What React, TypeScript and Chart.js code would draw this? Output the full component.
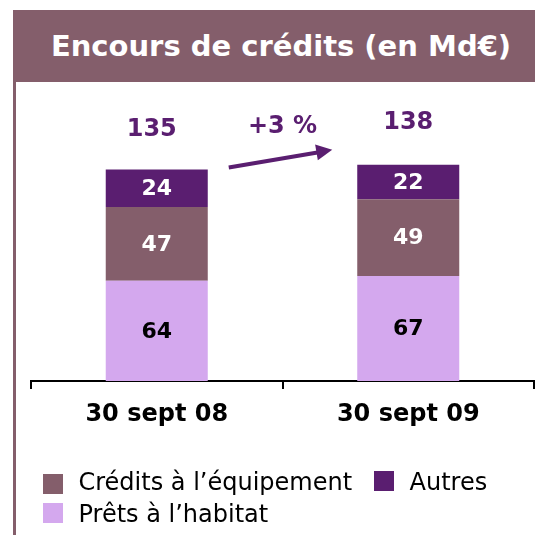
import React, { useEffect, useRef } from "react";
import { Chart, registerables } from "chart.js";

Chart.register(...registerables);

const categories = ["30 sept 08", "30 sept 09"];
const pretsHabitat = [64, 67];
const creditsEquipement = [47, 49];
const autres = [24, 22];
const totals = [135, 138];
const growthLabel = "+3 %";
const seriesNames = ["Prêts à l’habitat", "Crédits à l’équipement", "Autres"];
const titleText = "Encours de crédits (en Md€)";

const COL_PRETS = "#D4A8EE";
const COL_CREDITS = "#845E6B";
const COL_AUTRES = "#5A1E70";
const seriesColors = [COL_PRETS, COL_CREDITS, COL_AUTRES];
const FONT = "'DejaVu Sans', Verdana, sans-serif";

const labelPlugin = {
  id: "valueLabels",
  afterDatasetsDraw(chart: any) {
    const ctx = chart.ctx;
    const textColors = ["#000000", "#ffffff", "#ffffff"];
    ctx.save();
    ctx.textAlign = "center";
    ctx.textBaseline = "middle";
    ctx.font = `bold 22px ${FONT}`;
    chart.data.datasets.forEach((ds: any, i: number) => {
      const meta = chart.getDatasetMeta(i);
      meta.data.forEach((el: any, j: number) => {
        ctx.fillStyle = textColors[i];
        ctx.fillText(String(ds.data[j]), el.x, (el.y + el.base) / 2 + 1);
      });
    });
    const topMeta = chart.getDatasetMeta(chart.data.datasets.length - 1);
    const botMeta = chart.getDatasetMeta(0);
    ctx.font = `bold 24px ${FONT}`;
    ctx.fillStyle = COL_AUTRES;
    const ys: number[] = [];
    topMeta.data.forEach((el: any, j: number) => {
      const y = el.y - (j === 0 ? 40 : 42);
      ys.push(y);
      ctx.fillText(String(totals[j]), el.x - (j === 0 ? 5 : 0), y);
    });
    const xs = chart.scales.x;
    const midX = xs.getPixelForValue(0.5);
    ctx.fillText(growthLabel, midX, (ys[0] + ys[1]) / 2 + 1);
    // arrow
    const b1 = botMeta.data[0];
    const b2 = botMeta.data[1];
    const t1 = topMeta.data[0];
    const t2 = topMeta.data[1];
    const sx = b1.x + b1.width / 2 + 21;
    const sy = t1.y - 2;
    const ex = b2.x - b2.width / 2 - 25;
    const ey = t2.y - 15;
    const ang = Math.atan2(ey - sy, ex - sx);
    const headLen = 16;
    const headHalf = 8;
    const bx = ex - headLen * Math.cos(ang);
    const by = ey - headLen * Math.sin(ang);
    ctx.strokeStyle = COL_AUTRES;
    ctx.lineWidth = 4;
    ctx.beginPath();
    ctx.moveTo(sx, sy);
    ctx.lineTo(bx + 1, by);
    ctx.stroke();
    ctx.beginPath();
    ctx.moveTo(ex, ey);
    ctx.lineTo(bx + headHalf * Math.sin(ang), by - headHalf * Math.cos(ang));
    ctx.lineTo(bx - headHalf * Math.sin(ang), by + headHalf * Math.cos(ang));
    ctx.closePath();
    ctx.fillStyle = COL_AUTRES;
    ctx.fill();
    ctx.restore();
  },
};

const legendItems: { idx: number; left: number; boxTop: number; textTop: number }[] = [
  { idx: 1, left: 43, boxTop: 474, textTop: 466 },
  { idx: 2, left: 374, boxTop: 471, textTop: 466 },
  { idx: 0, left: 43, boxTop: 503, textTop: 498 },
];

export default function App() {
  const ref = useRef<HTMLCanvasElement | null>(null);
  useEffect(() => {
    if (!ref.current) return;
    const chart = new Chart(ref.current, {
      type: "bar",
      data: {
        labels: categories,
        datasets: [
          { label: seriesNames[0], data: pretsHabitat, backgroundColor: COL_PRETS },
          { label: seriesNames[1], data: creditsEquipement, backgroundColor: COL_CREDITS },
          { label: seriesNames[2], data: autres, backgroundColor: COL_AUTRES },
        ],
      },
      options: {
        animation: false,
        responsive: false,
        maintainAspectRatio: false,
        layout: { padding: { top: 100, right: 1, left: 31, bottom: 70 } },
        datasets: { bar: { barPercentage: 0.4056, categoryPercentage: 1, borderWidth: 0 } },
        scales: {
          x: {
            stacked: true,
            grid: {
              offset: true,
              drawOnChartArea: false,
              drawTicks: true,
              tickLength: 8,
              color: "#000000",
              lineWidth: 2,
            },
            border: { display: true, color: "#000000", width: 2 },
            ticks: { color: "#000000", font: { family: FONT, size: 24, weight: "bold" }, padding: 11 },
            afterFit: (scale: any) => {
              scale.height = 84;
            },
          },
          y: { stacked: true, display: false, min: 0, max: 179.3 },
        },
        plugins: {
          legend: { display: false },
          tooltip: { enabled: false },
          title: { display: false },
        },
      },
      plugins: [labelPlugin],
    } as any);
    return () => chart.destroy();
  }, []);

  return (
    <div style={{ position: "fixed", left: 0, top: 0, width: 535, height: 535, background: "#ffffff", overflow: "hidden" }}>
      <canvas ref={ref} width={535} height={535} style={{ position: "absolute", left: 0, top: 0, width: 535, height: 535 }} />
      <div
        style={{
          position: "absolute",
          left: 13,
          top: 10,
          width: 522,
          height: 72,
          boxSizing: "border-box",
          paddingLeft: 14,
          background: COL_CREDITS,
          color: "#ffffff",
          fontFamily: FONT,
          fontWeight: "bold",
          fontSize: 29,
          display: "flex",
          alignItems: "center",
          justifyContent: "center",
          whiteSpace: "nowrap",
        }}
      >
        {titleText}
      </div>
      <div style={{ position: "absolute", left: 13, top: 82, width: 3, height: 453, background: COL_CREDITS }} />
      {legendItems.map((r) => (
        <div key={r.idx}>
          <div
            style={{
              position: "absolute",
              left: r.left,
              top: r.boxTop,
              width: 20,
              height: 20,
              background: seriesColors[r.idx],
            }}
          />
          <div
            style={{
              position: "absolute",
              left: r.left + 35.5,
              top: r.textTop,
              height: 32,
              lineHeight: "32px",
              fontFamily: FONT,
              fontSize: 24,
              color: "#000000",
              whiteSpace: "nowrap",
            }}
          >
            {seriesNames[r.idx]}
          </div>
        </div>
      ))}
    </div>
  );
}
